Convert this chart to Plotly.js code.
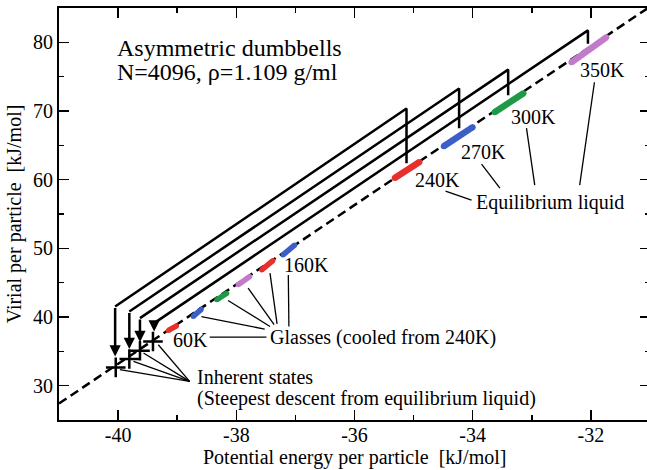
<!DOCTYPE html>
<html><head><meta charset="utf-8">
<script src="https://cdn.plot.ly/plotly-3.0.1.min.js"></script>
<style>html,body{margin:0;padding:0;overflow:hidden;background:#fff}</style>
</head><body><div id="chart" style="width:652px;height:470px"></div>
<script>
// Dashed equilibrium line (energy, virial)
const lineE = [-41, -31];
const lineW = [27.4, 85.2];

// Equilibrium liquid clouds
const liquidLabels = ['240K', '270K', '300K', '350K'];
const liquidColors = ['#e8302a', '#3b5fc6', '#1e9a46', '#c27bc9'];
const liquidE0 = [-35.32, -34.49, -33.63, -32.33];
const liquidE1 = [-34.90, -34.00, -33.14, -31.74];
const liquidW0 = [60.23, 64.88, 69.83, 77.09];
const liquidW1 = [62.56, 67.65, 72.59, 80.73];

// Glasses (cooled from 240K)
const glassLabels = ['60K', '80K', '100K', '120K', '140K', '160K'];
const glassColors = ['#e8302a', '#3b5fc6', '#1e9a46', '#c27bc9', '#e8302a', '#3b5fc6'];
const glassE0 = [-39.15, -38.73, -38.33, -37.97, -37.57, -37.21];
const glassE1 = [-39.01, -38.59, -38.16, -37.77, -37.38, -37.01];
const glassW0 = [38.04, 40.07, 42.50, 44.68, 46.86, 49.04];
const glassW1 = [38.72, 41.15, 43.47, 45.89, 48.21, 50.49];

// Connectors from liquid to inherent state
const connE = [-35.12, -34.23, -33.40, -32.05];
const connBottom = [62.4, 67.5, 72.3, 79.8];
const connTop = [70.36, 73.27, 76.03, 81.74];
const cornerE = [-40.05, -39.81, -39.63, -39.39];
const cornerW = [41.53, 40.80, 39.84, 39.11];
const tipW = [34.26, 35.33, 36.35, 37.89];

// Inherent states
const inhE = [-40.04, -39.81, -39.63, -39.41];
const inhW = [32.66, 33.88, 35.09, 36.44];

// Leader lines [x0, y0, x1, y1]
const leaders = [
  [-34.46, 58.34, -34.02, 57.03],
  [-33.85, 62.27, -33.54, 58.78],
  [-33.09, 67.50, -32.95, 59.21],
  [-31.94, 74.19, -32.19, 59.21],
  [-38.59, 40.07, -37.52, 38.24],
  [-38.14, 42.40, -37.43, 38.62],
  [-37.80, 44.20, -37.36, 38.88],
  [-37.43, 46.38, -37.31, 39.01],
  [-37.12, 46.13, -37.11, 38.62],
  [-38.45, 37.08, -37.49, 37.08],
  [-39.97, 32.33, -38.79, 30.62],
  [-39.74, 33.53, -38.79, 30.62],
  [-39.57, 34.75, -38.79, 30.62],
  [-39.32, 35.96, -38.79, 30.62]
];

// Text labels
const labelText = ['240K', '270K', '300K', '350K', 'Equilibrium liquid', '160K', '60K',
  'Glasses (cooled from 240K)', 'Inherent states', '(Steepest descent from equilibrium liquid)'];
const labelE = [-34.59, -33.81, -32.97, -31.80, -32.70, -36.81, -38.77, -37.47, -38.70, -38.70];
const labelW = [59.94, 64.01, 69.10, 75.93, 56.74, 47.59, 36.69, 36.98, 31.26, 28.20];
const labelAnchor = ['center', 'center', 'center', 'center', 'center', 'center', 'center', 'left', 'left', 'left'];

// Axis ticks
const xTickVals = [-40, -38, -36, -34, -32];
const xTickText = ['-40', '-38', '-36', '-34', '-32'];
const yTickVals = [30, 40, 50, 60, 70, 80];
const yTickText = ['30', '40', '50', '60', '70', '80'];

const titleLines = ['Asymmetric dumbbells', 'N=4096, \u03c1=1.109 g/ml'];

const FONT = 'Liberation Serif, Times New Roman, serif';
const traces = [];

traces.push({x: lineE, y: lineW, mode: 'lines', line: {color: '#000', width: 2.5, dash: '9px,5px'}, hoverinfo: 'skip'});

// connectors
const cx = [], cy = [];
for (let i = 0; i < connE.length; i++) {
  cx.push(connE[i], connE[i], cornerE[i], null);
  cy.push(connBottom[i], connTop[i], cornerW[i], null);
}
traces.push({x: cx, y: cy, mode: 'lines', line: {color: '#000', width: 2.5}, hoverinfo: 'skip'});

// leader lines
const lx = [], ly = [];
leaders.forEach(s => { lx.push(s[0], s[2], null); ly.push(s[1], s[3], null); });
traces.push({x: lx, y: ly, mode: 'lines', line: {color: '#000', width: 1.3}, hoverinfo: 'skip'});

function blob(e0, e1, w0, w1, color, width) {
  traces.push({x: [e0, e1], y: [w0, w1], mode: 'lines+markers',
    line: {color: color, width: width}, marker: {color: color, size: width - 0.5}, hoverinfo: 'skip'});
}
for (let i = 0; i < liquidE0.length; i++) blob(liquidE0[i], liquidE1[i], liquidW0[i], liquidW1[i], liquidColors[i], 6.5);
for (let i = 0; i < glassE0.length; i++) blob(glassE0[i], glassE1[i], glassW0[i], glassW1[i], glassColors[i], 5.5);

traces.push({x: inhE, y: inhW, mode: 'markers',
  marker: {symbol: 'cross-thin-open', size: 14, color: '#000', line: {color: '#000', width: 2.5}}, hoverinfo: 'skip'});

const annotations = [];
for (let i = 0; i < cornerE.length; i++) {
  annotations.push({x: cornerE[i], y: tipW[i], ax: cornerE[i], ay: cornerW[i], axref: 'x', ayref: 'y',
    xref: 'x', yref: 'y', text: '', showarrow: true, arrowhead: 2, arrowsize: 0.9, arrowwidth: 2.5,
    arrowcolor: '#000', standoff: 0});
}
for (let i = 0; i < labelText.length; i++) {
  annotations.push({x: labelE[i], y: labelW[i], xref: 'x', yref: 'y', text: labelText[i], showarrow: false,
    xanchor: labelAnchor[i], yanchor: 'middle', font: {family: FONT, size: 20, color: '#000'}});
}
titleLines.forEach((t, i) => {
  annotations.push({x: 115, y: 48 + 24 * i, xref: 'paper', yref: 'paper', text: t, showarrow: false,
    xanchor: 'left', yanchor: 'middle', font: {family: FONT, size: 24, color: '#000'}});
});
// x-axis title as annotation (pixel position)
annotations.push({x: 354, y: 457, xref: 'paper', yref: 'paper', text: 'Potential energy per particle \u00a0[kJ/mol]',
  showarrow: false, xanchor: 'center', yanchor: 'middle', font: {family: FONT, size: 20, color: '#000'}});
// convert pixel positions to paper
const L = 59, R = 2, T = 8, B = 50, W = 652, H = 470;
annotations.forEach(a => {
  if (a.xref === 'paper') {
    a.x = (a.x - L) / (W - L - R);
    a.y = 1 - (a.y - T) / (H - T - B);
  }
});

const axisCommon = {
  showline: true, linecolor: '#000', linewidth: 2, mirror: 'allticks',
  ticks: 'inside', ticklen: 10, tickwidth: 1.5, tickcolor: '#000',
  showgrid: false, zeroline: false, tickmode: 'array',
  tickfont: {family: FONT, size: 20, color: '#000'}
};

const layout = {
  width: W, height: H,
  margin: {l: L, r: R, t: T, b: B},
  paper_bgcolor: '#fff', plot_bgcolor: '#fff',
  showlegend: false,
  xaxis: Object.assign({}, axisCommon, {
    range: [-41, -31], tickvals: xTickVals, ticktext: xTickText, ticklabelstandoff: -4,
    minor: {dtick: 1, tick0: 0, ticklen: 5, tickwidth: 1.5, tickcolor: '#000', ticks: 'inside'}
  }),
  yaxis: Object.assign({}, axisCommon, {
    range: [25, 85], tickvals: yTickVals, ticktext: yTickText,
    minor: {dtick: 5, tick0: 0, ticklen: 5, tickwidth: 1.5, tickcolor: '#000', ticks: 'inside'},
    title: {text: 'Virial per particle \u00a0[kJ/mol]', font: {family: FONT, size: 20, color: '#000'}, standoff: 6}
  }),
  annotations: annotations
};

Plotly.newPlot('chart', traces, layout, {staticPlot: true, displayModeBar: false});
</script></body></html>
